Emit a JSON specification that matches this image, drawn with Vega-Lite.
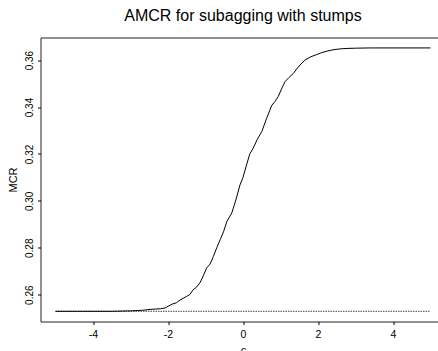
{
  "$schema": "https://vega.github.io/schema/vega-lite/v6.json",
  "autosize": "none",
  "padding": {"left": 40.5, "top": 37.5, "right": 0, "bottom": 29},
  "width": 405,
  "height": 284,
  "background": "white",
  "title": {"text": "AMCR for subagging with stumps", "font": "Liberation Sans", "fontSize": 16, "fontWeight": "normal", "color": "black", "anchor": "middle", "baseline": "alphabetic", "offset": 1, "frame": "group"},
  "config": {
    "view": {"stroke": "#222", "strokeWidth": 1},
    "font": "Liberation Sans"
  },
  "layer": [
    {
      "data": {"values": [
        {"c": -5, "mcr": 0.2529}, {"c": 5, "mcr": 0.2529}
      ]},
      "mark": {"type": "line", "color": "#444", "strokeWidth": 1, "strokeDash": [1.5, 1]},
      "encoding": {
        "x": {"field": "c", "type": "quantitative", "scale": {"domain": [-5.4, 5.4], "nice": false, "zero": false},
          "axis": {"title": "c", "values": [-4, -2, 0, 2, 4], "labelExpr": "datum.value + ''", "domain": false, "grid": false, "tickSize": 3, "tickColor": "black", "labelFontSize": 10.5, "labelColor": "black", "labelPadding": 5, "titleFontSize": 11, "titleFontWeight": "normal", "titleColor": "black", "titlePadding": 4, "labelFlush": false}},
        "y": {"field": "mcr", "type": "quantitative", "scale": {"domain": [0.24855, 0.36965], "nice": false, "zero": false},
          "axis": {"title": "MCR", "values": [0.26, 0.28, 0.30, 0.32, 0.34, 0.36], "format": ".2f", "domain": false, "grid": false, "tickSize": 3, "tickColor": "black", "labelFontSize": 10, "labelColor": "black", "labelAngle": 270, "labelAlign": "center", "labelBaseline": "bottom", "labelPadding": 3, "titleFontSize": 11, "titleFontWeight": "normal", "titleColor": "black", "titlePadding": 6, "labelFlush": false}}
      }
    },
    {
      "data": {"values": [
        {"c": -5.0, "mcr": 0.2529},
        {"c": -4.0, "mcr": 0.2529},
        {"c": -3.5, "mcr": 0.2529},
        {"c": -3.0, "mcr": 0.2531},
        {"c": -2.7, "mcr": 0.2533},
        {"c": -2.48, "mcr": 0.2537},
        {"c": -2.2, "mcr": 0.2540},
        {"c": -2.08, "mcr": 0.2543},
        {"c": -1.9, "mcr": 0.2559},
        {"c": -1.78, "mcr": 0.2565},
        {"c": -1.68, "mcr": 0.2577},
        {"c": -1.5, "mcr": 0.2593},
        {"c": -1.42, "mcr": 0.2600},
        {"c": -1.33, "mcr": 0.2621},
        {"c": -1.24, "mcr": 0.2632},
        {"c": -1.15, "mcr": 0.2650},
        {"c": -1.06, "mcr": 0.2680},
        {"c": -0.97, "mcr": 0.2714},
        {"c": -0.88, "mcr": 0.2730},
        {"c": -0.79, "mcr": 0.2763},
        {"c": -0.70, "mcr": 0.2800},
        {"c": -0.61, "mcr": 0.2834},
        {"c": -0.52, "mcr": 0.2868},
        {"c": -0.43, "mcr": 0.2912},
        {"c": -0.30, "mcr": 0.2948},
        {"c": -0.19, "mcr": 0.3004},
        {"c": -0.08, "mcr": 0.3068},
        {"c": 0.0, "mcr": 0.3100},
        {"c": 0.08, "mcr": 0.3145},
        {"c": 0.18, "mcr": 0.3200},
        {"c": 0.27, "mcr": 0.3224},
        {"c": 0.38, "mcr": 0.3262},
        {"c": 0.50, "mcr": 0.3295},
        {"c": 0.63, "mcr": 0.3352},
        {"c": 0.77, "mcr": 0.3408},
        {"c": 0.85, "mcr": 0.3423},
        {"c": 0.94, "mcr": 0.3445},
        {"c": 1.03, "mcr": 0.3478},
        {"c": 1.12, "mcr": 0.3508},
        {"c": 1.22, "mcr": 0.3525},
        {"c": 1.34, "mcr": 0.3543},
        {"c": 1.43, "mcr": 0.3562},
        {"c": 1.52, "mcr": 0.3579},
        {"c": 1.65, "mcr": 0.3600},
        {"c": 1.80, "mcr": 0.3614},
        {"c": 1.97, "mcr": 0.3624},
        {"c": 2.10, "mcr": 0.3632},
        {"c": 2.23, "mcr": 0.3638},
        {"c": 2.40, "mcr": 0.3644},
        {"c": 2.59, "mcr": 0.3648},
        {"c": 2.80, "mcr": 0.3650},
        {"c": 3.03, "mcr": 0.3651},
        {"c": 3.39, "mcr": 0.3652},
        {"c": 4.0, "mcr": 0.3652},
        {"c": 5.0, "mcr": 0.3652}
      ]},
      "mark": {"type": "line", "color": "black", "strokeWidth": 1},
      "encoding": {
        "x": {"field": "c", "type": "quantitative"},
        "y": {"field": "mcr", "type": "quantitative"}
      }
    }
  ]
}
